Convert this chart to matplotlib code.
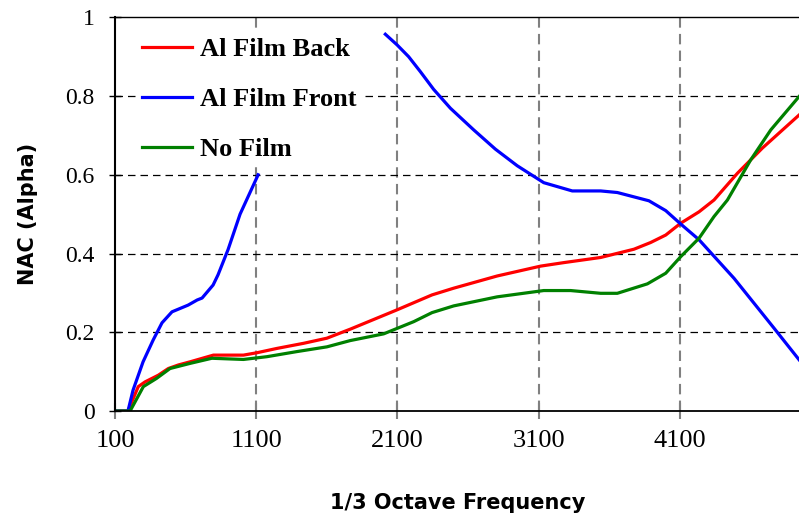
import numpy as np
import matplotlib
matplotlib.use("Agg")
import matplotlib.pyplot as plt

# Al Film Back (red)
back_f = [100, 192, 265, 313, 407, 478, 549, 632, 797, 1010, 1105, 1247, 1436, 1601, 1767,
          2098, 2346, 2499, 2807, 3114, 3280, 3540, 3776, 3894, 4001, 4107, 4237, 4343,
          4509, 4686, 4946]
back_a = [0, 0, 0.062, 0.074, 0.091, 0.108, 0.117, 0.125, 0.142, 0.142, 0.148, 0.159, 0.172,
          0.185, 0.208, 0.257, 0.295, 0.312, 0.343, 0.368, 0.377, 0.39, 0.411, 0.428, 0.447,
          0.477, 0.506, 0.536, 0.604, 0.668, 0.752]

# Al Film Front (blue) - gap between ~1110 and ~2015
front_f = [100, 192, 228, 299, 370, 433, 504, 618, 682, 717, 795, 830, 901, 986, 1114,
           1500,
           2015, 2098, 2180, 2263, 2357, 2476, 2641, 2795, 2949, 3137, 3339, 3540, 3658,
           3882, 4001, 4107, 4237, 4485, 4769, 4946]
front_a = [0, 0, 0.053, 0.125, 0.18, 0.224, 0.252, 0.269, 0.282, 0.287, 0.32, 0.346, 0.41,
           0.50, 0.60,
           np.nan,
           0.957, 0.93, 0.90, 0.862, 0.817, 0.769, 0.714, 0.665, 0.623, 0.58, 0.559, 0.559,
           0.555, 0.534, 0.509, 0.475, 0.435, 0.337, 0.21, 0.13]

# No Film (green)
none_f = [100, 207, 301, 395, 490, 632, 786, 1010, 1176, 1389, 1601, 1767, 2003, 2216, 2346,
          2499, 2807, 3137, 3327, 3540, 3658, 3871, 4001, 4107, 4237, 4343, 4438, 4603,
          4745, 4946]
none_a = [0, 0, 0.062, 0.083, 0.108, 0.121, 0.134, 0.131, 0.138, 0.151, 0.163, 0.179, 0.196,
          0.227, 0.25, 0.267, 0.29, 0.306, 0.306, 0.299, 0.299, 0.323, 0.35, 0.392, 0.439,
          0.494, 0.536, 0.638, 0.714, 0.799]

xticks = [100, 1100, 2100, 3100, 4100]
yticks = [0, 0.2, 0.4, 0.6, 0.8, 1]
ytick_labels = ["0", "0.2", "0.4", "0.6", "0.8", "1"]

fig = plt.figure(figsize=(7.99, 5.23), dpi=100)
ax = fig.add_axes([0.1439, 0.2141, 0.857, 0.7528])

ax.plot(back_f, back_a, color="#ff0000", lw=2.3, label="Al Film Back")
ax.plot(front_f, front_a, color="#0000ff", lw=2.3, label="Al Film Front")
ax.plot(none_f, none_a, color="#008000", lw=2.3, label="No Film")

ax.set_xlim(100, 4950)
ax.set_ylim(0, 1)
ax.set_xticks(xticks)
ax.set_yticks(yticks)
ax.set_yticklabels(ytick_labels)

# grid: grey dashed verticals, black dashed horizontals
for x in xticks[1:]:
    ax.axvline(x, color="#808080", lw=1.5, ls=(0, (5, 3)), zorder=0)
for y in yticks[1:-1]:
    ax.axhline(y, color="black", lw=0.9, ls=(0, (6, 4)), zorder=0)

ax.spines["right"].set_visible(False)
ax.spines["left"].set_linewidth(1.5)
ax.spines["bottom"].set_linewidth(1.3)
ax.spines["top"].set_linewidth(1.0)

ax.tick_params(axis="y", direction="inout", length=9, width=1, pad=10)
ax.tick_params(axis="x", direction="inout", length=12, width=1.5, color="#808080", pad=8)
for lab in ax.get_xticklabels():
    lab.set_fontfamily("Liberation Serif")
    lab.set_fontsize(19)
for lab in ax.get_yticklabels():
    lab.set_fontfamily("Liberation Serif")
    lab.set_fontsize(17)

ax.set_xlabel("1/3 Octave Frequency", fontsize=15, fontweight="bold",
              family="DejaVu Sans", labelpad=29)
ax.set_ylabel("NAC (Alpha)", fontsize=15, fontweight="bold",
              family="DejaVu Sans", labelpad=20)

leg = ax.legend(loc="upper left", frameon=True, handlelength=1.9, handletextpad=0.3,
                labelspacing=1.0, borderpad=0.2, bbox_to_anchor=(0.012, 0.995),
                prop={"family": "Liberation Serif", "weight": "bold", "size": 19})
leg.get_frame().set_facecolor("white")
leg.get_frame().set_edgecolor("none")
leg.get_frame().set_alpha(1)

fig.savefig("out.png", dpi=100)
